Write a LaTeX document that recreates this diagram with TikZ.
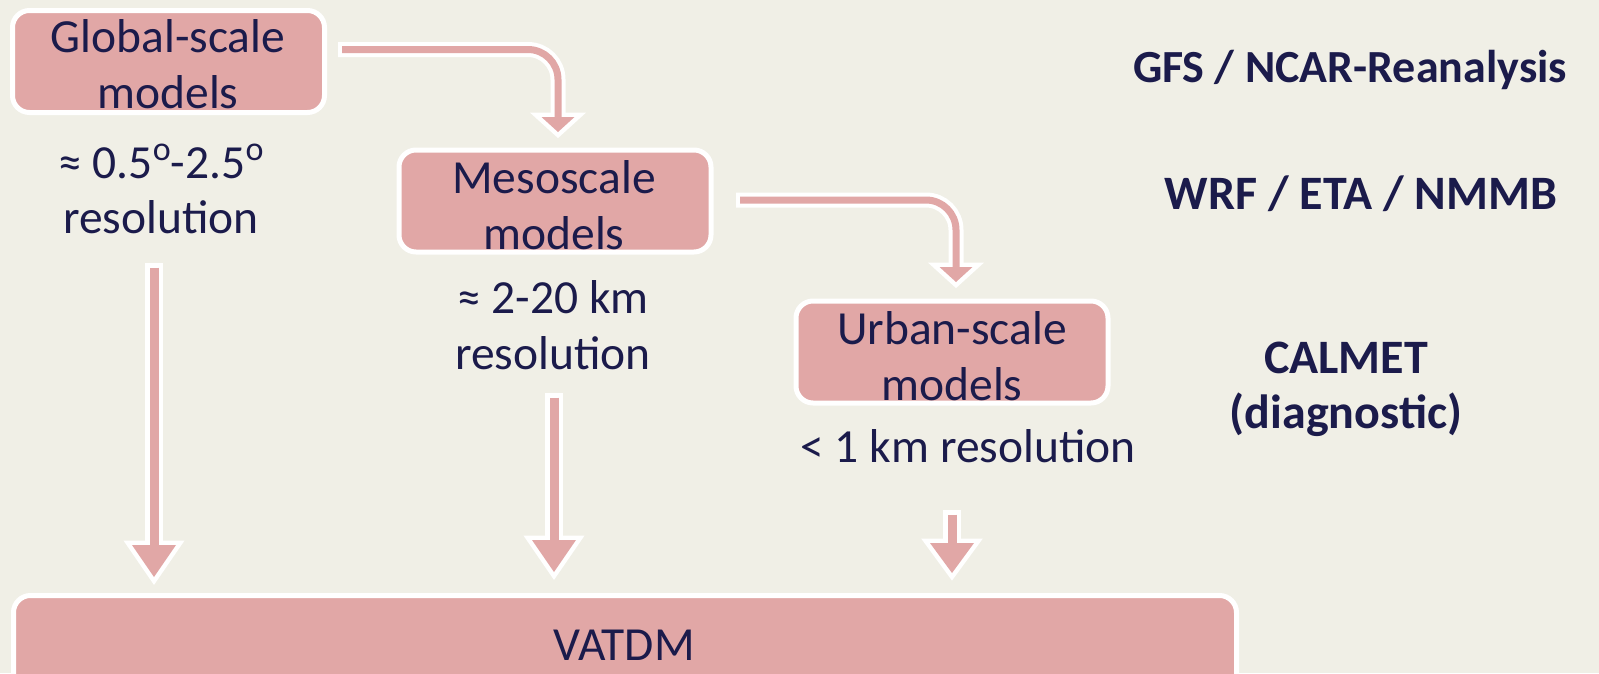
\documentclass[tikz,border=0pt]{standalone}
\usepackage{fontspec}
\setmainfont{Carlito}
\usetikzlibrary{calc}
\definecolor{bg}{HTML}{F0EFE6}
\definecolor{pinkf}{HTML}{E1A7A6}
\definecolor{navy}{HTML}{1B1B4B}
\newcommand\dego{\raisebox{0.36em}{\fontsize{34}{34}\selectfont o}}
\tikzset{
  modelbox/.style={draw=white, line width=5pt, fill=pinkf, rounded corners=17pt,
    minimum width=312pt, minimum height=102pt, inner sep=0pt},
  lbl/.style={text=navy, font=\fontsize{47.5}{56}\selectfont, inner sep=0pt, anchor=base},
  boldlbl/.style={lbl, font=\fontsize{48}{56}\selectfont\bfseries},
}
\newcommand\bentarrow[3]{%
  \draw[white, line width=15pt, rounded corners=30pt] (#1) -| (#2);
  \filldraw[white, line width=9pt] ($(#2)+(-16.5,0)$) -- ($(#2)+(16.5,0)$) -- (#3) -- cycle;
  \draw[pinkf, line width=7pt, rounded corners=30pt] ($(#1)+(4,0)$) -| ($(#2)+(0,2)$);
  \fill[pinkf] ($(#2)+(-16.5,0)$) -- ($(#2)+(16.5,0)$) -- (#3) -- cycle;
}
\newcommand\dnarrow[3]{%
  \draw[white, line width=18pt] (#1) -- (#2);
  \filldraw[white, line width=9pt] ($(#2)+(-22,0)$) -- ($(#2)+(22,0)$) -- (#3) -- cycle;
  \draw[pinkf, line width=9pt] ($(#1)+(0,4.5)$) -- ($(#2)+(0,2)$);
  \fill[pinkf] ($(#2)+(-22,0)$) -- ($(#2)+(22,0)$) -- (#3) -- cycle;
}
\begin{document}
\begin{tikzpicture}[x=1pt, y=-1pt]
\useasboundingbox (0,0) rectangle (1599,673);
\fill[bg] (0,0) rectangle (1599,673);
\clip (0,0) rectangle (1599,673);

% boxes
\node[modelbox] (glob) at (168.5,61.5) {};
\node[lbl] (globa) at (168,52) {Global-scale};
\node[lbl] (globb) at (168,108) {models};

\node[modelbox] (meso) at (555,201) {};
\node[lbl] (mesoa) at (554,193) {Mesoscale};
\node[lbl] (mesob) at (554,249) {models};

\node[modelbox] (urb) at (952,352) {};
\node[lbl] (urba) at (952,344) {Urban-scale};
\node[lbl] (urbb) at (952,400) {models};

\node[modelbox, minimum width=1223pt, minimum height=150pt] (vat) at (625,670.5) {};
\node[lbl] (vatt) at (624,660) {VATDM};

% resolution labels
\node[lbl] (res1a) at (161,178) {≈ 0.5\dego-2.5\dego};
\node[lbl] (res1b) at (161,233) {resolution};
\node[lbl] (res2a) at (553,313) {≈ 2-20 km};
\node[lbl] (res2b) at (553,369) {resolution};
\node[lbl] (res3) at (968,462) {< 1 km resolution};

% right labels
\node[boldlbl, font=\fontsize{46}{56}\selectfont\bfseries] (gfs) at (1350,82) {GFS / NCAR-Reanalysis};
\node[boldlbl] (wrf) at (1361,209) {WRF / ETA / NMMB};
\node[boldlbl] (cal) at (1346,373) {CALMET};
\node[boldlbl] (diag) at (1346,428) {(diagnostic)};

% bent arrows
\coordinate (b1s) at (338,49.5);
\coordinate (b1h) at (558,117);
\coordinate (b1t) at (558,132);
\bentarrow{b1s}{b1h}{b1t}
\coordinate (b2s) at (736,200);
\coordinate (b2h) at (956,267);
\coordinate (b2t) at (956,282);
\bentarrow{b2s}{b2h}{b2t}

% down arrows
\coordinate (d1s) at (154,263);
\coordinate (d1h) at (154,545);
\coordinate (d1t) at (154,577);
\dnarrow{d1s}{d1h}{d1t}
\coordinate (d2s) at (554,393);
\coordinate (d2h) at (554,540);
\coordinate (d2t) at (554,572);
\dnarrow{d2s}{d2h}{d2t}
\coordinate (d3s) at (952,510);
\coordinate (d3h) at (952,543);
\coordinate (d3t) at (952,573);
\dnarrow{d3s}{d3h}{d3t}
\end{tikzpicture}
\end{document}
